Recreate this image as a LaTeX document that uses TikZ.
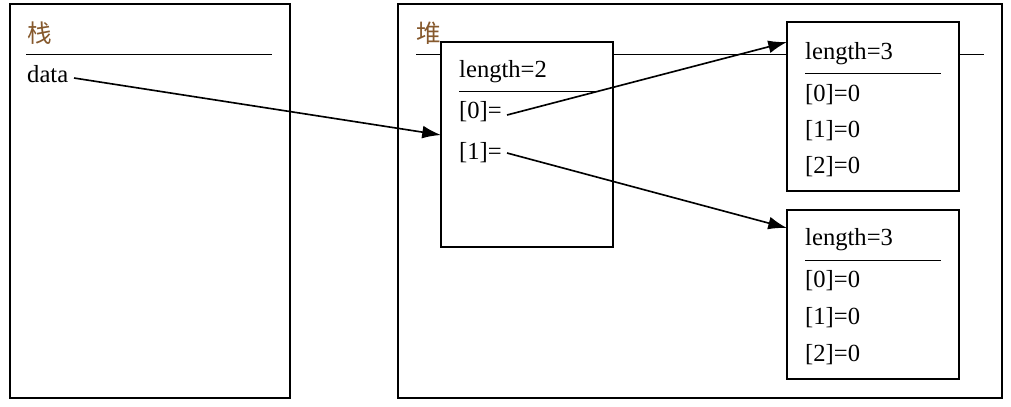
\documentclass[tikz,border=0pt]{standalone}
\usepackage{fontspec}
\setmainfont{Liberation Serif}
\newfontfamily\cjk{Noto Sans CJK SC}
\usetikzlibrary{arrows.meta}
\begin{document}
\begin{tikzpicture}[x=0.03cm,y=-0.03cm,
  box/.style={draw,line width=1.2pt,fill=white},
  txt/.style={inner sep=0,font=\fontsize{21}{24}\selectfont},
  arr/.style={line width=1.4pt,-{Latex[length=16pt,width=11pt]}}]
\useasboundingbox (0,0) rectangle (1011,406);
\draw[box] (10,4) rectangle (290,398);
\node[txt,anchor=west,text=brown!70!black] (zhan) at (27,33) {\cjk 栈};
\draw (26,54) -- (272,54);
\node[txt,anchor=west] (data) at (27,74) {data};
\coordinate (ds) at (74,78);
\draw[box] (398,4) rectangle (1002,398);
\node[txt,anchor=west,text=brown!70!black] (dui) at (416,33) {\cjk 堆};
\draw (416,54) -- (984,54);
% middle
\draw[box] (441,42) rectangle (613,247);
\coordinate (mw) at (441,135);
\node[txt,anchor=west] (l2) at (459,72) {length=2};
\draw (459,91) -- (596,91);
\node[txt,anchor=west] (m0) at (459,112) {[0]=};
\node[txt,anchor=west] (m1) at (459,153) {[1]=};
\coordinate (m0s) at (507,115);
\coordinate (m1s) at (507,153);
% top right
\draw[box] (787,22) rectangle (959,191);
\coordinate (tw) at (787,42);
\node[txt,anchor=west] (t3) at (805,54) {length=3};
\draw (805,73) -- (941,73);
\node[txt,anchor=west] (ta) at (805,95) {[0]=0};
\node[txt,anchor=west] (tb) at (805,131) {[1]=0};
\node[txt,anchor=west] (tc) at (805,167) {[2]=0};
% bottom right
\draw[box] (787,210) rectangle (959,379);
\coordinate (bw) at (787,228);
\node[txt,anchor=west] (b3) at (805,240) {length=3};
\draw (805,260) -- (941,260);
\node[txt,anchor=west] (ba) at (805,281) {[0]=0};
\node[txt,anchor=west] (bb) at (805,318) {[1]=0};
\node[txt,anchor=west] (bc) at (805,355) {[2]=0};
\draw[arr] (ds) -- (mw);
\draw[arr] (m0s) -- (tw);
\draw[arr] (m1s) -- (bw);
\end{tikzpicture}
\end{document}
